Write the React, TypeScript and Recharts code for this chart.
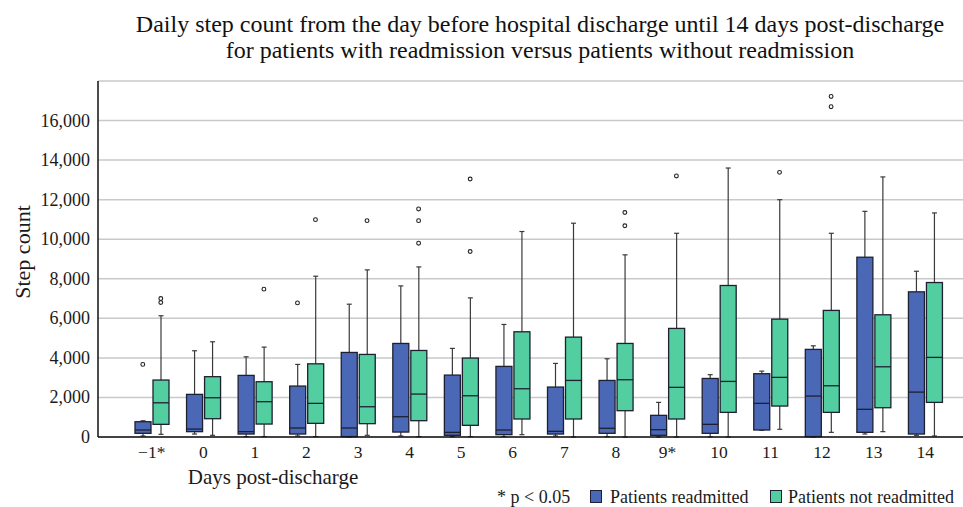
import { ComposedChart, Bar, Scatter, XAxis, YAxis, CartesianGrid, Label } from "recharts";

const days = ["\u22121*", "0", "1", "2", "3", "4", "5", "6", "7", "8", "9*", "10", "11", "12", "13", "14"];

// Patients readmitted
const readMin = [50, 150, 20, 50, 0, 50, 20, 20, 50, 20, 0, 0, 340, 0, 150, 85];
const readQ1 = [186, 270, 150, 150, 20, 250, 85, 118, 150, 186, 85, 186, 354, 20, 235, 150];
const readMed = [354, 400, 270, 455, 455, 1025, 235, 354, 287, 440, 370, 640, 1700, 2070, 1400, 2270];
const readQ3 = [773, 2155, 3115, 2575, 4275, 4730, 3130, 3570, 2525, 2860, 1095, 2960, 3200, 4430, 9090, 7340];
const readMax = [820, 4360, 4055, 3670, 6715, 7640, 4480, 5690, 3720, 3955, 1750, 3150, 3330, 4610, 11410, 8380];

// Patients not readmitted
const notMin = [135, 85, 20, 20, 85, 20, 20, 118, 0, 0, 0, 0, 390, 235, 270, 50];
const notQ1 = [640, 925, 655, 690, 675, 825, 590, 910, 910, 1330, 910, 1245, 1565, 1245, 1480, 1750];
const notMed = [1730, 1985, 1785, 1700, 1530, 2170, 2085, 2440, 2860, 2895, 2510, 2810, 3015, 2590, 3550, 4025];
const notQ3 = [2880, 3050, 2795, 3700, 4175, 4375, 3990, 5320, 5050, 4730, 5490, 7660, 5960, 6400, 6180, 7810];
const notMax = [6130, 4815, 4545, 8130, 8450, 8600, 7035, 10390, 10810, 9210, 10300, 13600, 12000, 10300, 13150, 11330];

const readOutliers = [
  { day: "\u22121*", value: 3670 },
  { day: "2", value: 6780 },
];
const notOutliers = [
  { day: "\u22121*", value: 7000 },
  { day: "\u22121*", value: 6800 },
  { day: "1", value: 7475 },
  { day: "2", value: 10990 },
  { day: "3", value: 10940 },
  { day: "4", value: 11530 },
  { day: "4", value: 10940 },
  { day: "4", value: 9800 },
  { day: "5", value: 13045 },
  { day: "5", value: 9380 },
  { day: "8", value: 11350 },
  { day: "8", value: 10680 },
  { day: "9*", value: 13200 },
  { day: "11", value: 13380 },
  { day: "12", value: 17220 },
  { day: "12", value: 16700 },
];

const yTicks = [0, 2000, 4000, 6000, 8000, 10000, 12000, 14000, 16000, 18000];

const BLUE = "#4b68b6";
const GREEN = "#52cea1";
const FONT = "Liberation Serif";

const data = days.map((day, i) => ({
  day,
  readRange: [readMin[i], readMax[i]],
  notRange: [notMin[i], notMax[i]],
  read: { min: readMin[i], q1: readQ1[i], med: readMed[i], q3: readQ3[i], max: readMax[i] },
  not: { min: notMin[i], q1: notQ1[i], med: notMed[i], q3: notQ3[i], max: notMax[i] },
}));

// draws whiskers + box, positions come from the bar's scaled range
const BoxShape = (props: any) => {
  const { x, y, width, height, payload, group, color } = props;
  if (!payload) return null;
  const s = payload[group];
  const top = Math.min(y, y + height);
  const bot = Math.max(y, y + height);
  const span = s.max - s.min || 1;
  const py = (v: number) => bot - ((v - s.min) / span) * (bot - top);
  const cx = x + width / 2;
  const q3 = py(s.q3);
  const q1 = py(s.q1);
  return (
    <g>
      <line x1={cx} x2={cx} y1={py(s.max)} y2={q3} stroke="#3a3a3a" strokeWidth={1.2} />
      <line x1={cx} x2={cx} y1={q1} y2={py(s.min)} stroke="#3a3a3a" strokeWidth={1.2} />
      <line x1={cx - 2.5} x2={cx + 2.5} y1={py(s.max)} y2={py(s.max)} stroke="#3a3a3a" strokeWidth={1.2} />
      <line x1={cx - 2.5} x2={cx + 2.5} y1={py(s.min)} y2={py(s.min)} stroke="#3a3a3a" strokeWidth={1.2} />
      <rect x={x} y={q3} width={width} height={Math.max(q1 - q3, 1)} fill={color} stroke="#1d2030" strokeWidth={1.3} />
      <line x1={x} x2={x + width} y1={py(s.med)} y2={py(s.med)} stroke="#1d2030" strokeWidth={1.3} />
    </g>
  );
};

const outlierShape = (dx: number) => (props: any) => {
  const { cx, cy } = props;
  if (cx == null || cy == null) return null;
  return <circle cx={cx + dx} cy={cy} r={1.9} fill="#ffffff" stroke="#222" strokeWidth={1.1} />;
};

const XTick = (p: any) => (
  <text x={p.x} y={p.y} dy={13} textAnchor="middle" fontSize={17.5} fontFamily={FONT} fill="#1a1a1a">
    {p.payload.value}
  </text>
);

const YTick = (p: any) =>
  p.payload.value === 18000 ? null : (
    <text x={p.x} y={p.y} dy={6} textAnchor="end" fontSize={18} fontFamily={FONT} fill="#1a1a1a">
      {Number(p.payload.value).toLocaleString("en-US")}
    </text>
  );

export default function App() {
  return (
    <div style={{ position: "absolute", left: 0, top: 0, width: 963, height: 507, background: "#fff", fontFamily: FONT }}>
      <div
        style={{
          position: "absolute",
          left: 0,
          top: 11,
          width: 1080,
          textAlign: "center",
          fontSize: 24,
          lineHeight: "26px",
          color: "#111",
        }}
      >
        Daily step count from the day before hospital discharge until 14 days post-discharge
        <br />
        for patients with readmission versus patients without readmission
      </div>

      <ComposedChart
        width={963}
        height={507}
        data={data}
        margin={{ top: 81, right: 0, bottom: 40, left: 0 }}
        barSize={16}
        barGap={2}
      >
        <CartesianGrid vertical={false} stroke="#c9c9c9" strokeWidth={1.5} />
        <XAxis
          dataKey="day"
          allowDuplicatedCategory={false}
          padding={{ left: 28, right: 12 }}
          height={30}
          tickLine={false}
          axisLine={{ stroke: "#111", strokeWidth: 1.5 }}
          tick={<XTick />}
          interval={0}
        >
          <Label
            content={() => (
              <text x={273} y={484} textAnchor="middle" fontSize={21} fontFamily={FONT} fill="#1a1a1a">
                Days post-discharge
              </text>
            )}
          />
        </XAxis>
        <YAxis
          width={98}
          domain={[0, 18000]}
          ticks={yTicks}
          tickLine={false}
          axisLine={{ stroke: "#111", strokeWidth: 1.5 }}
          tick={<YTick />}
        >
          <Label
            content={(p: any) => {
              const vb = p.viewBox || { x: 0, y: 81, height: 356 };
              const cy = vb.y + vb.height / 2 - 7;
              return (
                <text
                  x={22}
                  y={cy}
                  transform={`rotate(-90, 22, ${cy})`}
                  textAnchor="middle"
                  dominantBaseline="central"
                  fontSize={22}
                  fontFamily={FONT}
                  fill="#1a1a1a"
                >
                  Step count
                </text>
              );
            }}
          />
        </YAxis>
        <Bar
          dataKey="readRange"
          isAnimationActive={false}
          shape={(p: any) => <BoxShape {...p} group="read" color={BLUE} />}
        />
        <Bar
          dataKey="notRange"
          isAnimationActive={false}
          shape={(p: any) => <BoxShape {...p} group="not" color={GREEN} />}
        />
        <Scatter data={readOutliers} dataKey="value" isAnimationActive={false} shape={outlierShape(-9)} />
        <Scatter data={notOutliers} dataKey="value" isAnimationActive={false} shape={outlierShape(9)} />
      </ComposedChart>

      <div style={{ position: "absolute", top: 485, left: 0, width: 963, height: 22, fontSize: 18, color: "#1a1a1a" }}>
        <span style={{ position: "absolute", left: 497, top: 2, lineHeight: "20px" }}>* p &lt; 0.05</span>
        <span
          style={{
            position: "absolute",
            left: 590,
            top: 5,
            width: 10,
            height: 11,
            background: BLUE,
            border: "1px solid #1d2030",
          }}
        />
        <span style={{ position: "absolute", left: 610, top: 2, lineHeight: "20px" }}>Patients readmitted</span>
        <span
          style={{
            position: "absolute",
            left: 770,
            top: 5,
            width: 10,
            height: 11,
            background: GREEN,
            border: "1px solid #1d2030",
          }}
        />
        <span style={{ position: "absolute", left: 788, top: 2, lineHeight: "20px" }}>Patients not readmitted</span>
      </div>
    </div>
  );
}
